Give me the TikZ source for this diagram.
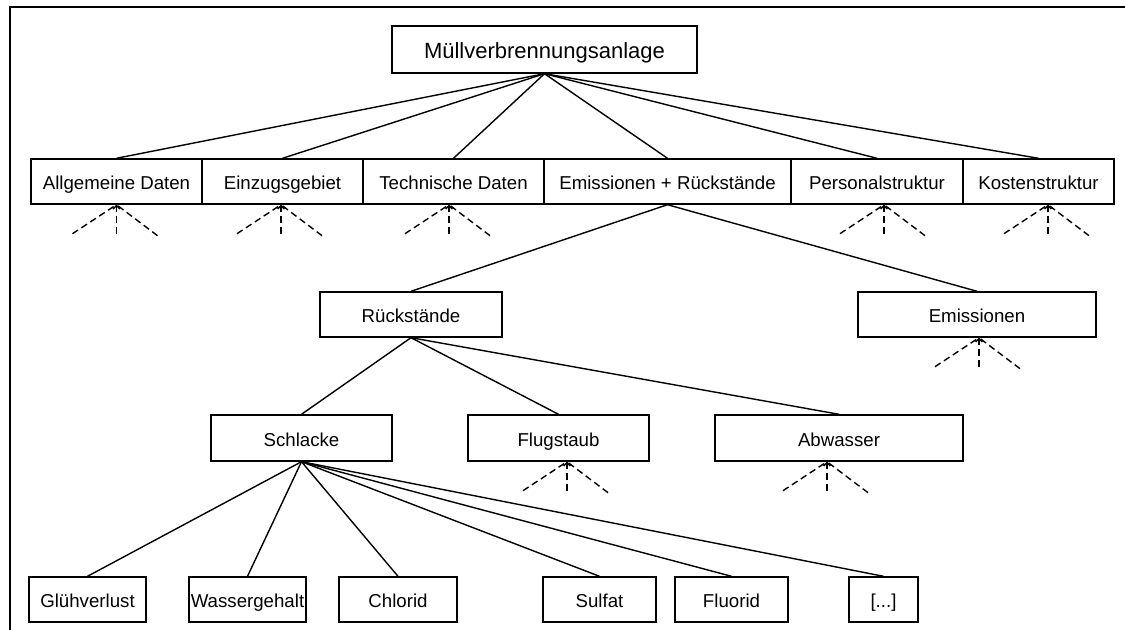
\documentclass[tikz,border=0pt]{standalone}
\usepackage{fontspec}
\setmainfont{Liberation Sans}
\usetikzlibrary{arrows.meta}
\def\px{0.75pt}
% three dashed strokes converging on a box from below
\newcommand{\fanin}[2]{%
  \coordinate (#1tip) at ([xshift=#2*\px]#1.south);
  \draw[dline] ([shift={(-44,29)}]#1tip) -- (#1tip);
  \draw[dline,-{Straight Barb[length=2.5pt,width=5pt]}] ([shift={(0,29)}]#1tip) -- (#1tip);
  \draw[dline] ([shift={(41,31)}]#1tip) -- (#1tip);
}
\begin{document}
\begin{tikzpicture}[x=0.75pt,y=-0.75pt,
  box/.style={draw,line width=1.05pt,inner sep=0pt,minimum height=45*\px,
    text height=12.6pt,text depth=0pt,
    font=\fontsize{14}{16}\selectfont},
  link/.style={line width=1.05pt},
  dline/.style={line width=1.05pt,dash pattern=on 5pt off 3pt},
]
\useasboundingbox (0,0) rectangle (1125,630);
% frame
\draw[line width=1.5pt] (10,630) -- (10,7) -- (1125,7);

% root
\node[box,minimum width=305*\px,minimum height=47*\px,text height=13.2pt,
  font=\fontsize{16.5}{19}\selectfont] (mva) at (544.5,49.5) {Müllverbrennungsanlage};

% second level
\node[box,minimum width=171*\px] (allg) at (116.5,181.5) {Allgemeine Daten};
\node[box,minimum width=161*\px] (einz) at (282.5,181.5) {Einzugsgebiet};
\node[box,minimum width=181*\px] (tech) at (453.5,181.5) {Technische Daten};
\node[box,minimum width=247*\px] (emru) at (667.5,181.5) {Emissionen + Rückstände};
\node[box,minimum width=172*\px] (pers) at (877,181.5) {Personalstruktur};
\node[box,minimum width=151*\px] (kost) at (1038.5,181.5) {Kostenstruktur};

% third level
\node[box,minimum width=182*\px] (rueck) at (411,314.5) {Rückstände};
\node[box,minimum width=238*\px] (emis) at (977,314.5) {Emissionen};

% fourth level
\node[box,minimum width=181*\px,minimum height=46*\px] (schl) at (301.5,438) {Schlacke};
\node[box,minimum width=181*\px,minimum height=46*\px] (flug) at (558.5,438) {Flugstaub};
\node[box,minimum width=248*\px,minimum height=46*\px] (abw) at (839,438) {Abwasser};

% fifth level
\node[box,minimum width=117*\px] (glueh) at (87.5,599.5) {Glühverlust};
\node[box,minimum width=117*\px] (wass) at (247.5,599.5) {Wassergehalt};
\node[box,minimum width=118*\px] (chlor) at (398,599.5) {Chlorid};
\node[box,minimum width=113*\px] (sulf) at (599.5,599.5) {Sulfat};
\node[box,minimum width=113*\px] (fluor) at (731.5,599.5) {Fluorid};
\node[box,minimum width=69*\px] (etc) at (883.5,599.5) {[...]};

% tree edges
\foreach \n in {allg,einz,tech,emru,pers,kost}
  \draw[link] (mva.south) -- (\n.north);
\foreach \n in {rueck,emis}
  \draw[link] (emru.south) -- (\n.north);
\foreach \n in {schl,flug,abw}
  \draw[link] (rueck.south) -- (\n.north);
\foreach \n in {glueh,wass,chlor,sulf,fluor,etc}
  \draw[link] (schl.south) -- (\n.north);

% unexpanded subtrees
\fanin{allg}{0}
\fanin{einz}{-1.5}
\fanin{tech}{-4.5}
\fanin{pers}{7}
\fanin{kost}{9.5}
\fanin{emis}{2}
\fanin{flug}{8.5}
\fanin{abw}{-12}
\end{tikzpicture}
\end{document}
